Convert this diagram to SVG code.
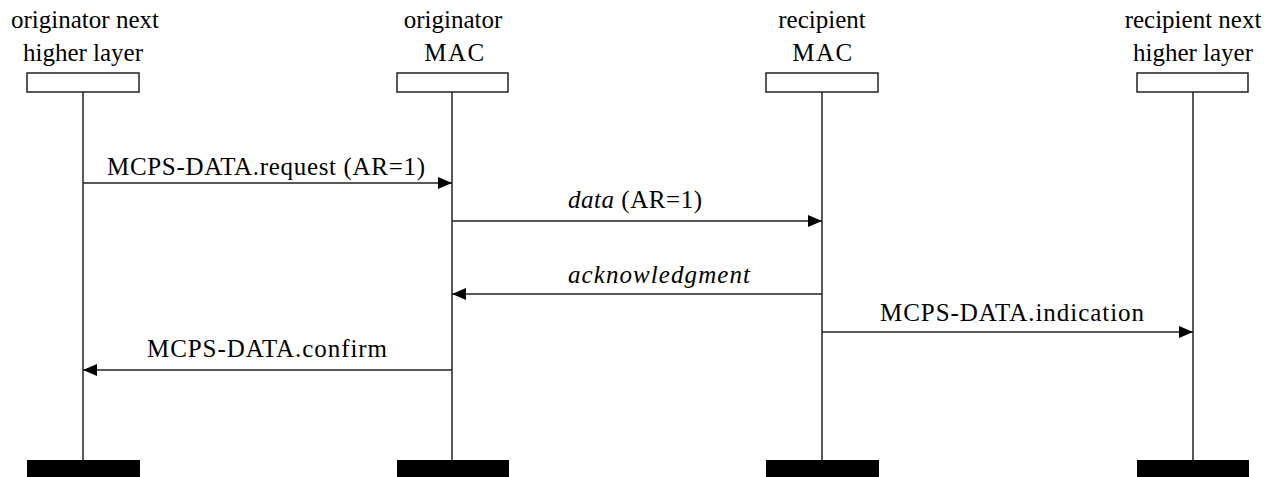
<svg xmlns="http://www.w3.org/2000/svg" width="1280" height="477" viewBox="0 0 1280 477">
<style>
text{font-family:"Liberation Serif","Times New Roman","DejaVu Serif",serif;font-size:25px;fill:#000;text-anchor:middle}
.i{font-style:italic}
.box{fill:#fff;stroke:#222;stroke-width:1.5}
.bar{fill:#000}
.life{stroke:#222;stroke-width:1.5}
.msg{stroke:#222;stroke-width:1.5;fill:none;marker-end:url(#ah)}
</style>
<defs>
<marker id="ah" viewBox="0 0 14 12" refX="14" refY="6" markerWidth="14" markerHeight="12" markerUnits="userSpaceOnUse" orient="auto">
<path d="M0,0 L14,6 L0,12 Z" fill="#000"/>
</marker>
</defs>
<rect width="1280" height="477" fill="#fff"/>
<g id="originator-nhl">
<text x="85" y="28" font-family="Liberation Serif, serif">originator next</text>
<text x="83" y="61" font-family="Liberation Serif, serif">higher layer</text>
<line class="life" x1="83" y1="92" x2="83" y2="460"/>
<rect class="box" x="27" y="73" width="112" height="19"/>
<rect class="bar" x="27" y="460" width="113" height="17"/>
</g>
<g id="originator-mac">
<text x="453" y="28" font-family="Liberation Serif, serif">originator</text>
<text x="455" y="61" font-family="Liberation Serif, serif" letter-spacing="1.5">MAC</text>
<line class="life" x1="452" y1="92" x2="452" y2="460"/>
<rect class="box" x="397" y="73" width="111" height="19"/>
<rect class="bar" x="397" y="460" width="112" height="17"/>
</g>
<g id="recipient-mac">
<text x="822" y="28" font-family="Liberation Serif, serif">recipient</text>
<text x="823" y="61" font-family="Liberation Serif, serif" letter-spacing="1.5">MAC</text>
<line class="life" x1="822" y1="92" x2="822" y2="460"/>
<rect class="box" x="766" y="73" width="112" height="19"/>
<rect class="bar" x="766" y="460" width="113" height="17"/>
</g>
<g id="recipient-nhl">
<text x="1193" y="28" font-family="Liberation Serif, serif">recipient next</text>
<text x="1193" y="61" font-family="Liberation Serif, serif">higher layer</text>
<line class="life" x1="1193" y1="92" x2="1193" y2="460"/>
<rect class="box" x="1137" y="73" width="111" height="19"/>
<rect class="bar" x="1137" y="460" width="112" height="17"/>
</g>
<g id="connectors">
<line class="msg" x1="83" y1="183" x2="452" y2="183"/>
<text x="266" y="175" font-family="Liberation Serif, serif" textLength="318" lengthAdjust="spacing">MCPS-DATA.request (AR=1)</text>
<line class="msg" x1="452" y1="221" x2="822" y2="221"/>
<text x="635" y="208" font-family="Liberation Serif, serif" textLength="134" lengthAdjust="spacing"><tspan class="i">data</tspan> (AR=1)</text>
<line class="msg" x1="822" y1="294" x2="452" y2="294"/>
<text x="659" y="283" class="i" font-family="Liberation Serif, serif" textLength="182" lengthAdjust="spacing">acknowledgment</text>
<line class="msg" x1="822" y1="332" x2="1193" y2="332"/>
<text x="1012" y="321" font-family="Liberation Serif, serif" textLength="264" lengthAdjust="spacing">MCPS-DATA.indication</text>
<line class="msg" x1="452" y1="370" x2="83" y2="370"/>
<text x="267" y="357" font-family="Liberation Serif, serif" textLength="240" lengthAdjust="spacing">MCPS-DATA.confirm</text>
</g>
</svg>
